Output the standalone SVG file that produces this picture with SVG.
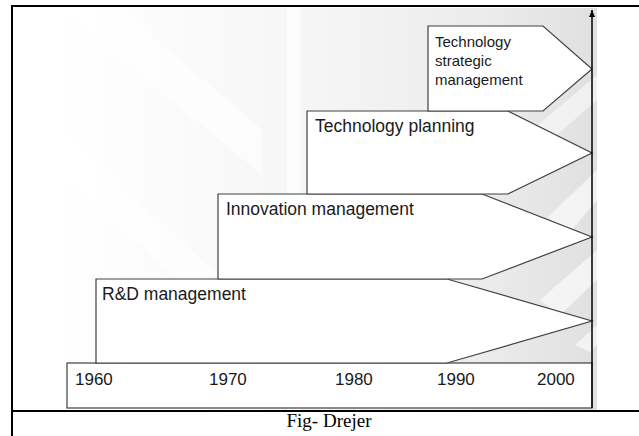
<svg xmlns="http://www.w3.org/2000/svg" width="639" height="436" viewBox="0 0 639 436">
  <style>
    .shape { fill: #ffffff; stroke: #404040; stroke-width: 1.2; stroke-linejoin: miter; }
    .lbl { font-family: "Liberation Sans", Arial, sans-serif; font-size: 17.5px; fill: #1a1a1a; }
    .small { font-size: 15px; }
    .year { font-family: "Liberation Sans", Arial, sans-serif; font-size: 17px; fill: #1a1a1a; }
    .cap { font-family: "Liberation Serif", "Times New Roman", serif; font-size: 19px; fill: #000000; }
    .frame { stroke: #000000; stroke-width: 2; fill: none; }
    .band { fill: #ffffff; }
  </style>
  <defs>
    <linearGradient id="bg" x1="0" y1="0" x2="1" y2="0">
      <stop offset="0" stop-color="#ffffff"/>
      <stop offset="0.45" stop-color="#f6f6f6"/>
      <stop offset="0.8" stop-color="#ebebeb"/>
      <stop offset="1" stop-color="#e0e0e0"/>
    </linearGradient>
    <marker id="arrowUp" viewBox="0 0 7 6" refX="7" refY="3" markerWidth="7" markerHeight="6" markerUnits="userSpaceOnUse" orient="auto">
      <path d="M0,0 L7,3 L0,6 Z" fill="#000000"/>
    </marker>
  </defs>

  <rect x="0" y="0" width="639" height="436" fill="#ffffff"/>

  <g id="background">
    <rect x="62" y="8" width="535" height="402" fill="url(#bg)"/>
    <polygon class="band" opacity="0.6" points="62,8 120,8 262,130 262,175 62,10"/>
    <polygon class="band" opacity="0.6" points="62,130 245,300 245,340 62,175"/>
    <rect class="band" opacity="0.7" x="287" y="8" width="14" height="402"/>
    <polygon class="band" opacity="0.6" points="548,217 597,170 597,200 568,235"/>
    <polygon class="band" opacity="0.6" points="540,300 597,250 597,280 560,315"/>
    <polygon class="band" opacity="0.6" points="575,345 597,325 597,345 590,352"/>
    <polygon class="band" opacity="0.5" points="520,140 597,75 597,100 540,150"/>
  </g>

  <g id="frame">
    <line class="frame" x1="11" y1="6" x2="639" y2="6"/>
    <line class="frame" x1="12" y1="5" x2="12" y2="436"/>
    <line class="frame" x1="11" y1="411" x2="639" y2="411"/>
  </g>

  <g id="timeline">
    <rect class="shape" x="67" y="363" width="525" height="45"/>
    <text class="year" x="75" y="385">1960</text>
    <text class="year" x="209" y="385">1970</text>
    <text class="year" x="335" y="385">1980</text>
    <text class="year" x="437" y="385">1990</text>
    <text class="year" x="537" y="385">2000</text>
  </g>

  <g id="node-rd">
    <polygon class="shape" points="96,363 96,279 447,279 592,321 447,363"/>
    <text class="lbl" x="102" y="300">R&amp;D management</text>
  </g>

  <g id="node-innovation">
    <polygon class="shape" points="218,279 218,194 482,194 592,237 482,279"/>
    <text class="lbl" x="226" y="215">Innovation management</text>
  </g>

  <g id="node-planning">
    <polygon class="shape" points="307,194 307,111 508,111 592,153 508,194"/>
    <text class="lbl" x="315" y="132">Technology planning</text>
  </g>

  <g id="node-strategic">
    <polygon class="shape" points="428,111 428,26 543,26 592,69 543,111"/>
    <text class="lbl small" x="435" y="47">Technology</text>
    <text class="lbl small" x="435" y="66">strategic</text>
    <text class="lbl small" x="435" y="85">management</text>
  </g>

  <g id="connectors">
    <line x1="592" y1="408" x2="592" y2="10" stroke="#000000" stroke-width="1.5" marker-end="url(#arrowUp)"/>
  </g>

  <g id="caption">
    <text class="cap" x="329" y="427" text-anchor="middle">Fig- Drejer</text>
  </g>
</svg>
